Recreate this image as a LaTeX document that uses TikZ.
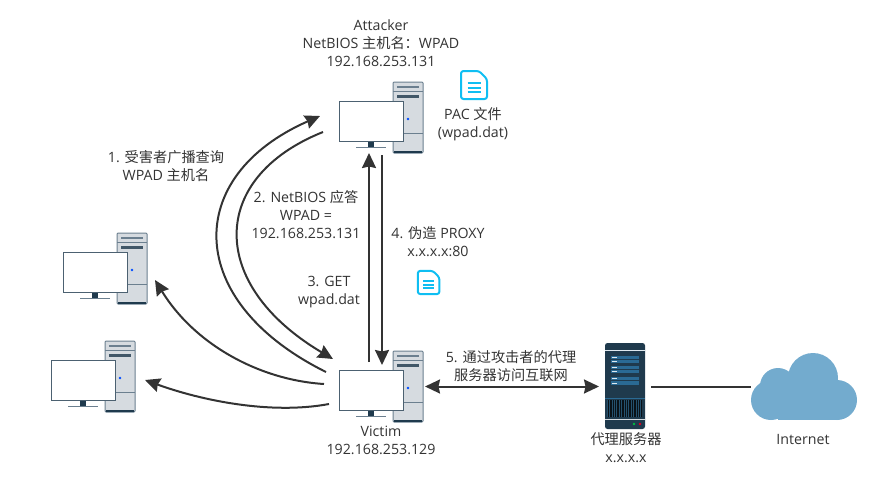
\documentclass[tikz,border=0pt]{standalone}
\usepackage{fontspec}
\setmainfont{Open Sans}
\newfontfamily\cjk{Noto Sans CJK SC}
\usetikzlibrary{arrows.meta}
\definecolor{towerfill}{HTML}{D6DBE0}
\definecolor{towerline}{HTML}{6B7F8F}
\definecolor{darkblue}{HTML}{1F3A4D}
\definecolor{barblue}{HTML}{2A6A94}
\definecolor{cloudblue}{HTML}{73ABCE}
\definecolor{doccyan}{HTML}{0FBEF2}
\definecolor{linkgray}{HTML}{333333}
\tikzset{
label/.style={align=center,text=linkgray,font=\fontsize{14.2}{18}\selectfont,inner sep=0pt},
link/.style={draw=linkgray,line width=2pt,-{Stealth[length=15pt,width=14pt,inset=1.5pt]}},
hitbox/.style={inner sep=0pt,minimum width=#1}
}
\providecommand{\Computer}[2]{
\begin{scope}[shift={(#2)}]
\draw[towerline,fill=towerfill,line width=1pt,rounded corners=1pt] (54,0) rectangle (84,71);
\draw[darkblue,line width=1.6pt] (55,70) -- (83,70);
\draw[towerline,line width=.8pt] (54,9) -- (84,9);
\draw[towerline,line width=.8pt] (54,51) -- (84,51);
\draw[towerline,line width=1.2pt] (58,5) -- (80,5);
\fill[darkblue!85] (58,12.5) rectangle (80,16);
\fill[blue!70!cyan] (69,37) circle (1.3);
\fill[darkblue] (29,59) rectangle (35,65);
\draw[towerline,line width=1.4pt] (17,65.5) -- (47,65.5);
\draw[darkblue!80,fill=white,line width=.9pt] (0,19) rectangle (64,59);
\node[hitbox=84pt,minimum height=71pt,outer sep=2pt] (#1) at (42,35.5) {};
\end{scope}
}
\providecommand{\PacDoc}[2]{
\begin{scope}[shift={(#1)},scale=#2]
\draw[doccyan,fill=white,line width=2pt,rounded corners=2.5pt] (1,1) -- (19,1) -- (27,9) -- (27,29) -- (1,29) -- cycle;
\draw[doccyan,line width=2pt] (7.5,13) -- (20.5,13);
\draw[doccyan,line width=2pt] (7.5,17.5) -- (20.5,17.5);
\draw[doccyan,line width=2pt] (7.5,22) -- (20.5,22);
\end{scope}
}
\providecommand{\ServerBar}[1]{
\fill[barblue] (611,#1) rectangle (639,#1+3.4);
\fill[white!85!barblue] (612,#1+1.2) rectangle (617,#1+2.1);
}
\begin{document}
\begin{tikzpicture}[x=1pt,y=-1pt]
\useasboundingbox (0,0) rectangle (885,490);
\Computer{attacker}{339,82}
\Computer{victim}{339,351}
\Computer{hostone}{63,233}
\Computer{hosttwo}{51,341}
\PacDoc{460,70}{1}
\PacDoc{417,270}{.83}
\fill[darkblue,rounded corners=2.5pt] (605,343) rectangle (645,429);
\draw[white!85!barblue,line width=1pt] (605,350) -- (645,350);
\ServerBar{355.7}\ServerBar{360}\ServerBar{365.7}\ServerBar{370}\ServerBar{377}\ServerBar{381.3}
\draw[barblue,line width=.8pt] (605,398) -- (645,398);
\fill[black!70!darkblue] (607,400) rectangle (642,417);
\draw[barblue!45!darkblue,xstep=2.4,ystep=100,line width=.5pt,shift={(607,400)}] (0,0) grid (35,17);
\draw[towerfill,line width=1pt] (605,419) -- (645,419);
\fill[green!50!teal] (634,424) circle (1.3);
\fill[red!50!purple] (640,424) circle (1.3);
\node[hitbox=40pt,minimum height=86pt,outer sep=6pt] (proxy) at (625,386.5) {};
\fill[cloudblue] (771,400) circle (20);
\fill[cloudblue] (778,386) circle (18);
\fill[cloudblue] (813,378) circle (25);
\fill[cloudblue] (837,400) circle (20);
\fill[cloudblue] (778,385) rectangle (837,420);
\node[hitbox=106pt,minimum height=67pt] (cloud) at (804,386.5) {};
\coordinate (queryfrom) at (326,372);
\coordinate (queryto) at (320,116);
\coordinate (replyfrom) at (323,132);
\coordinate (replyto) at (333,359);
\coordinate (getfrom) at (369,362);
\coordinate (getto) at (369,153);
\coordinate (proxyfrom) at (382,155);
\coordinate (proxyto) at (382,365);
\coordinate (hostonefrom) at (324,384);
\coordinate (hostoneto) at (155,280);
\coordinate (hosttwofrom) at (329,404);
\coordinate (hosttwoto) at (145,380);
\draw[link] (queryfrom) .. controls (183,301) and (183,176) .. (queryto);
\draw[link] (replyfrom) .. controls (208,178) and (208,285) .. (replyto);
\draw[link] (getfrom) -- (getto);
\draw[link] (proxyfrom) -- (proxyto);
\draw[link] (hostonefrom) .. controls (260,380) and (195,345) .. (hostoneto);
\draw[link] (hosttwofrom) .. controls (270,415) and (200,400) .. (hosttwoto);
\draw[link,{Stealth[length=15pt,width=14pt,inset=1.5pt]}-{Stealth[length=15pt,width=14pt,inset=1.5pt]}] (victim.east) -- (proxy.west);
\draw[draw=linkgray,line width=2pt] (proxy.east) -- (cloud.west);
\node[label] (attackerlabel) at (381,43) {Attacker\\NetBIOS {\cjk 主机名：}WPAD\\192.168.253.131};
\node[label] (paclabel) at (473,124) {PAC {\cjk 文件}\\(wpad.dat)};
\node[label] (querylabel) at (166,166) {1. {\cjk 受害者广播查询}\\WPAD {\cjk 主机名}};
\node[label] (replylabel) at (306,215) {2. NetBIOS {\cjk 应答}\\WPAD =\\192.168.253.131};
\node[label] (getlabel) at (329,292) {3. GET\\wpad.dat};
\node[label] (proxylabel) at (438,242) {4. {\cjk 伪造} PROXY\\x.x.x.x:80};
\node[label] (tunnellabel) at (511,366) {5. {\cjk 通过攻击者的代理}\\{\cjk 服务器访问互联网}};
\node[label] (victimlabel) at (381,440) {Victim\\192.168.253.129};
\node[label] (proxyname) at (626,448) {{\cjk 代理服务器}\\x.x.x.x};
\node[label] (cloudlabel) at (803,439) {Internet};
\end{tikzpicture}
\end{document}
